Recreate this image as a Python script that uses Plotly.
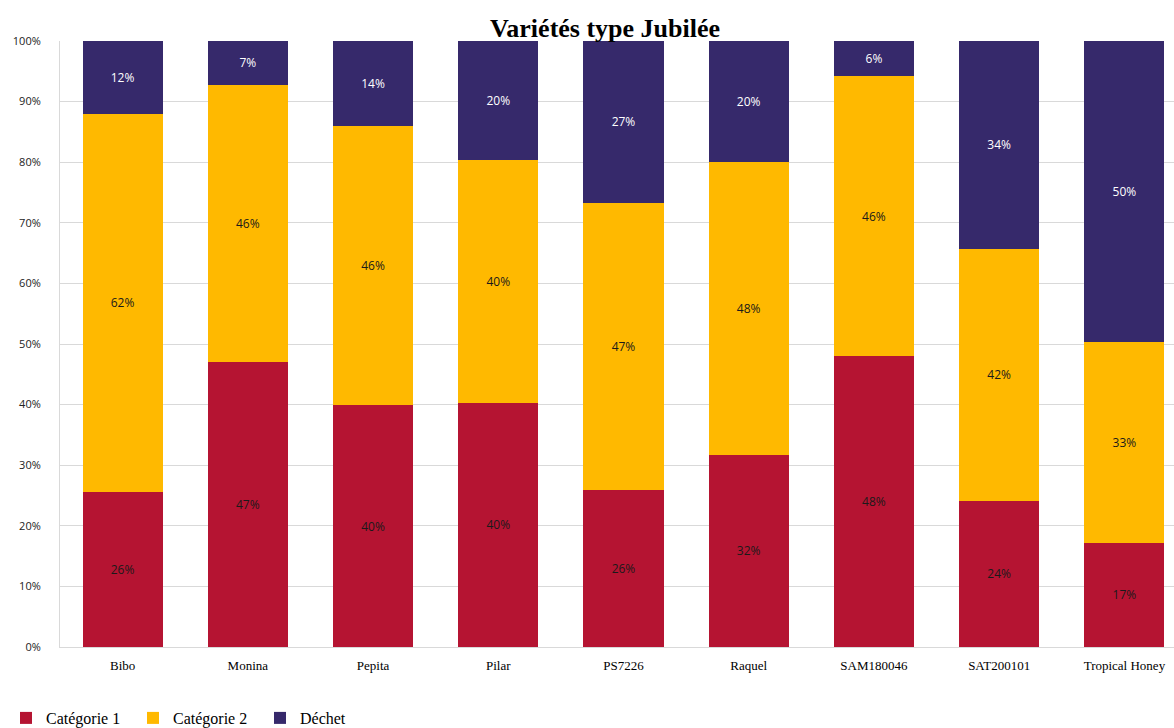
import plotly.graph_objects as go

categories = ["Bibo", "Monina", "Pepita", "Pilar", "PS7226", "Raquel", "SAM180046", "SAT200101", "Tropical Honey"]
cat1 = [25.6, 47.0, 39.9, 40.3, 25.9, 31.7, 48.0, 24.1, 17.2]
cat2 = [62.4, 45.8, 46.1, 40.1, 47.4, 48.4, 46.2, 41.6, 33.2]
dechet = [12.0, 7.2, 14.0, 19.6, 26.7, 19.9, 5.8, 34.3, 49.6]
series_names = ["Catégorie 1", "Catégorie 2", "Déchet"]
colors = ["#B51432", "#FFB900", "#36296B"]
text_colors = ["#1a1a1a", "#1a1a1a", "#FFFFFF"]
tick_vals = [0, 10, 20, 30, 40, 50, 60, 70, 80, 90, 100]
tick_text = [f"{v}%" for v in tick_vals]

fig = go.Figure()
for name, vals, col, tcol in zip(series_names, [cat1, cat2, dechet], colors, text_colors):
    fig.add_trace(go.Bar(
        x=categories, y=vals, name=name,
        marker=dict(color=col, line=dict(width=0)),
        texttemplate="%{y:.0f}%", textposition="inside", insidetextanchor="middle",
        textfont=dict(family="Open Sans, sans-serif", size=12, color=tcol),
        textangle=0,
    ))

fig.update_layout(
    barmode="stack",
    bargap=0.36,
    width=1174, height=728,
    margin=dict(l=60, r=0, t=41, b=81, autoexpand=False),
    paper_bgcolor="white", plot_bgcolor="white",
    title=dict(text="<b>Variétés type Jubilée</b>", x=605/1174, xanchor="center",
               y=1 - 28/728, yanchor="middle", xref="container", yref="container",
               font=dict(family="Liberation Serif, serif", size=26, color="#000000")),
    xaxis=dict(range=[-0.5, 8.396], showline=True, linecolor="#D9D9D9", linewidth=1,
               tickfont=dict(family="Liberation Serif, serif", size=13, color="#000"),
               ticks="", showgrid=False, ticklabelstandoff=6, automargin=False),
    yaxis=dict(range=[0, 100], tickvals=tick_vals, ticktext=tick_text,
               showgrid=True, gridcolor="#D9D9D9", gridwidth=1,
               showline=True, linecolor="#D9D9D9", linewidth=1, zeroline=False,
               tickfont=dict(family="Open Sans, sans-serif", size=11, color="#222"),
               ticks="", ticklabelstandoff=16, automargin=False),
    legend=dict(orientation="h", xref="container", yref="container",
                x=6/1174, y=10/728, xanchor="left", yanchor="middle",
                font=dict(family="Liberation Serif, serif", size=16, color="#000"),
                itemwidth=30, entrywidth=82, entrywidthmode="pixels",
                traceorder="normal", itemsizing="constant"),
    uniformtext=dict(minsize=8, mode="show"),
)

fig.write_html("out.html", config={"displayModeBar": False},
               post_script="document.body.style.margin='0';document.body.style.overflow='hidden';")
